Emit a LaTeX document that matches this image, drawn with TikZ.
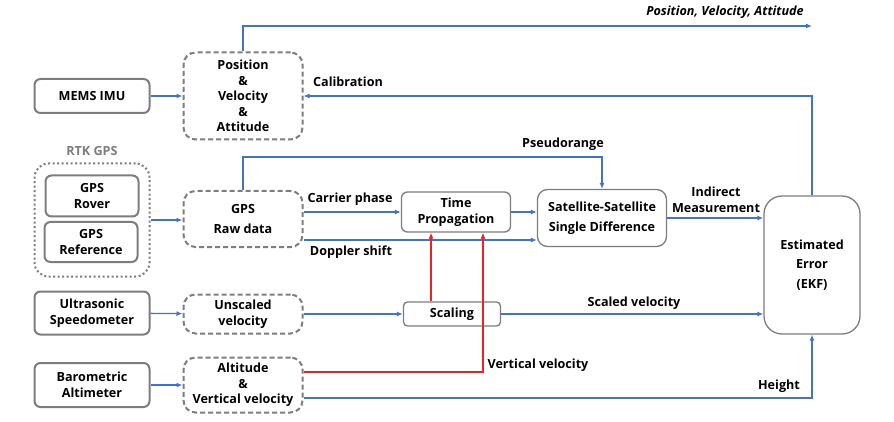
\documentclass[tikz,border=0pt]{standalone}
\usepackage{fontspec}
\setmainfont{Open Sans}
\usetikzlibrary{arrows.meta}

\definecolor{lineblue}{RGB}{68,114,196}
\definecolor{linered}{RGB}{232,36,36}
\definecolor{boxgray}{RGB}{125,125,125}

\tikzset{
  sensor/.style={draw=boxgray,line width=2pt,rounded corners=6pt,align=center,inner sep=0pt},
  signal/.style={draw=boxgray,line width=2pt,dash pattern=on 5pt off 3pt,rounded corners=12pt,align=center,inner sep=0pt},
  group/.style={draw=boxgray,line width=2pt,dash pattern=on 2pt off 2.5pt,rounded corners=14pt,inner sep=0pt},
  process/.style={draw=boxgray,line width=1.3pt,rounded corners=6pt,align=center,inner sep=0pt},
  flow/.style={lineblue,line width=1.3pt,-{Latex[length=6pt,width=5pt]}},
  feed/.style={linered,line width=1.6pt,-{Latex[length=6pt,width=5pt]}},
  lbl/.style={inner sep=1pt,align=center}
}

\begin{document}
\begin{tikzpicture}[x=1pt,y=-1pt,font=\fontsize{12.6}{15.5}\selectfont\bfseries]

    \fill[white] (0,0) rectangle (894,422);
    \useasboundingbox (0,0) rectangle (894,422);

    % sensors
    \node[sensor,minimum width=115,minimum height=34] (imu) at (92,96) {MEMS IMU};
    \node[text=boxgray] (rtklbl) at (92,151) {RTK GPS};
    \node[group,minimum width=115,minimum height=113] (rtk) at (92,220) {};
    \node[sensor,minimum width=93,minimum height=41] (rover) at (92,196) {GPS\\Rover};
    \node[sensor,minimum width=93,minimum height=40] (ref) at (91,242) {GPS\\Reference};
    \node[sensor,minimum width=115,minimum height=43] (us) at (92,313) {Ultrasonic\\Speedometer};
    \node[sensor,minimum width=115,minimum height=44] (baro) at (92,385) {Barometric\\Altimeter};

    % raw signals
    \node[signal,minimum width=119,minimum height=87] (pva) at (243,96) {Position\\\&\\Velocity\\\&\\Attitude};
    \node[signal,minimum width=119,minimum height=56] (raw) at (243,219) {GPS\\[4pt]Raw data};
    \node[signal,minimum width=119,minimum height=39] (unsc) at (243,314) {Unscaled\\velocity};
    \node[signal,minimum width=119,minimum height=55] (alt) at (243,385) {Altitude\\\&\\Vertical velocity};

    % processing
    \node[process,minimum width=109,minimum height=40] (tp) at (456,212) {Time\\Propagation};
    \node[process,minimum width=129,minimum height=57,rounded corners=10pt] (ss) at (602,218) {Satellite-Satellite\\[4pt]Single Difference};
    \node[process,minimum width=97,minimum height=24,rounded corners=4pt] (scal) at (452,314) {Scaling};
    \node[process,minimum width=96,minimum height=138,rounded corners=18pt] (ekf) at (812,265) {Estimated\\[4pt]Error\\[4pt](EKF)};

    % bends
    \coordinate (out) at (812,26);
    \coordinate (pr) at (602,157);
    \coordinate (dop) at (0,240);
    \coordinate (sv) at (431,0);
    \coordinate (vv) at (483,372);
    \coordinate (hgt) at (0,398);

    % connectors
    \draw[flow] (imu) -- (pva);
    \draw[flow] (pva.north) |- (out);
    \draw[flow] (ekf.north) |- (pva.east);
    \draw[flow] (rtk.east) -- (rtk.east -| raw.west);
    \draw[flow] (raw.north) |- (pr) -- (ss.north);
    \draw[flow] (raw.east |- tp.west) -- (tp.west);
    \draw[flow] (tp) -- (tp -| ss.west);
    \draw[flow] (raw.east |- dop) -- (ss.west |- dop);
    \draw[flow] (ss) -- (ss -| ekf.west);
    \draw[flow] (us) -- (unsc);
    \draw[flow] (unsc) -- (unsc -| scal.west);
    \draw[flow] (scal) -- (scal -| ekf.west);
    \draw[flow] (baro) -- (alt);
    \draw[feed] (scal.north -| sv) -- (tp.south -| sv);
    \draw[feed] (alt.east |- vv) -| (tp.south -| vv);
    \draw[flow] (alt.east |- hgt) -| (ekf.south);

    % labels
    \node[lbl,font=\fontsize{12.6}{15.5}\selectfont\bfseries\itshape] (pvalbl) at (725,12) {Position, Velocity, Attitude};
    \node[lbl] (callbl) at (348,82) {Calibration};
    \node[lbl] (prlbl) at (563,144) {Pseudorange};
    \node[lbl] (cplbl) at (350,199) {Carrier phase};
    \node[lbl] (doplbl) at (351,252) {Doppler shift};
    \node[lbl] (imlbl) at (716,200) {Indirect\\Measurement};
    \node[lbl] (svlbl) at (634,303) {Scaled velocity};
    \node[lbl] (vvlbl) at (538,365) {Vertical velocity};
    \node[lbl] (hgtlbl) at (779,386) {Height};

\end{tikzpicture}
\end{document}
